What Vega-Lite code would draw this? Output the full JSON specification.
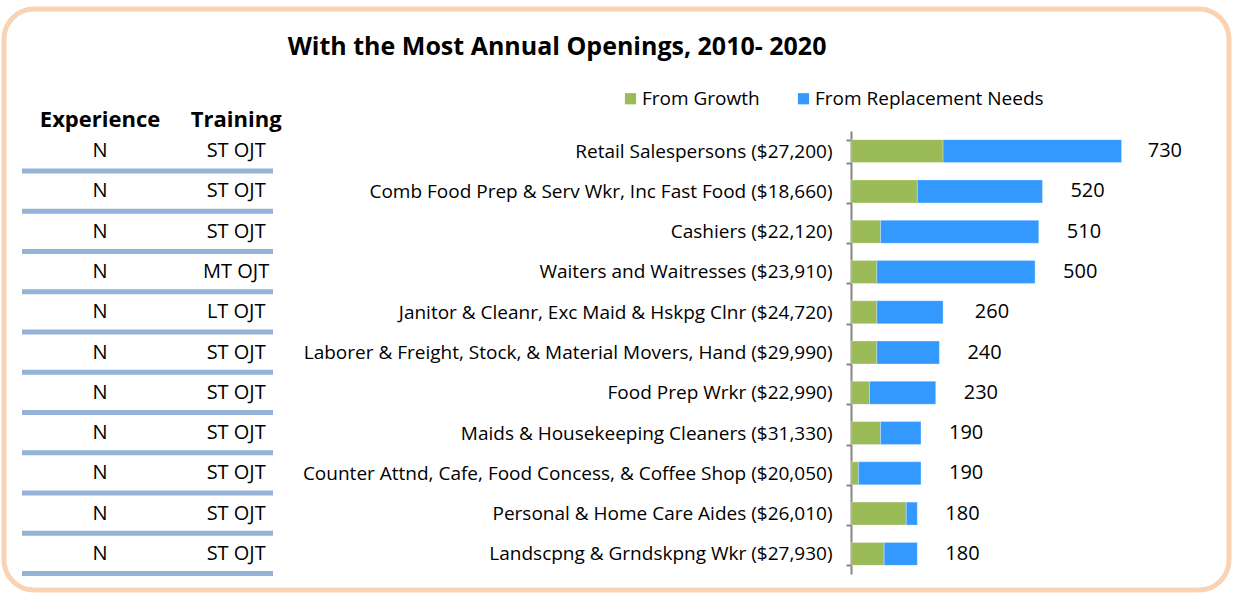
{
  "$schema": "https://vega.github.io/schema/vega-lite/v6.json",
  "width": 1233,
  "height": 594,
  "autosize": {"type": "fit", "contains": "padding"},
  "padding": {"left": 4, "top": 0, "right": 4, "bottom": 4},
  "background": "white",
  "config": {
    "view": {"stroke": "#FAD3B2", "strokeWidth": 5, "cornerRadius": 30},
    "font": "Open Sans",
    "text": {"font": "Open Sans"}
  },
  "datasets": {
    "jobs": [
      {"occ": "Retail Salespersons ($27,200)", "exp": "N", "train": "ST OJT", "From Growth": 250, "From Replacement Needs": 485, "total": 730},
      {"occ": "Comb Food Prep & Serv Wkr, Inc Fast Food ($18,660)", "exp": "N", "train": "ST OJT", "From Growth": 180, "From Replacement Needs": 340, "total": 520},
      {"occ": "Cashiers ($22,120)", "exp": "N", "train": "ST OJT", "From Growth": 80, "From Replacement Needs": 430, "total": 510},
      {"occ": "Waiters and Waitresses ($23,910)", "exp": "N", "train": "MT OJT", "From Growth": 70, "From Replacement Needs": 430, "total": 500},
      {"occ": "Janitor & Cleanr, Exc Maid & Hskpg Clnr ($24,720)", "exp": "N", "train": "LT OJT", "From Growth": 70, "From Replacement Needs": 180, "total": 260},
      {"occ": "Laborer & Freight, Stock, & Material Movers, Hand ($29,990)", "exp": "N", "train": "ST OJT", "From Growth": 70, "From Replacement Needs": 170, "total": 240},
      {"occ": "Food Prep Wrkr ($22,990)", "exp": "N", "train": "ST OJT", "From Growth": 50, "From Replacement Needs": 180, "total": 230},
      {"occ": "Maids & Housekeeping Cleaners ($31,330)", "exp": "N", "train": "ST OJT", "From Growth": 80, "From Replacement Needs": 110, "total": 190},
      {"occ": "Counter Attnd, Cafe, Food Concess, & Coffee Shop ($20,050)", "exp": "N", "train": "ST OJT", "From Growth": 20, "From Replacement Needs": 170, "total": 190},
      {"occ": "Personal & Home Care Aides ($26,010)", "exp": "N", "train": "ST OJT", "From Growth": 150, "From Replacement Needs": 30, "total": 180},
      {"occ": "Landscpng & Grndskpng Wkr ($27,930)", "exp": "N", "train": "ST OJT", "From Growth": 90, "From Replacement Needs": 90, "total": 180}
    ]
  },
  "data": {"name": "jobs"},
  "layer": [
    {
      "transform": [{"fold": ["From Growth", "From Replacement Needs"], "as": ["series", "value"]}],
      "mark": {"type": "bar", "stroke": "#ffffff", "strokeOpacity": 0.35, "strokeWidth": 0.8},
      "encoding": {
        "y": {
          "field": "occ", "type": "nominal", "sort": null,
          "scale": {"range": [122, 565], "paddingInner": 0.43, "paddingOuter": 0.215},
          "axis": {
            "title": null, "orient": "left", "offset": -847,
            "domainColor": "#868686", "domainWidth": 2,
            "tickColor": "#868686", "tickWidth": 2, "tickSize": 5, "tickBand": "extent",
            "labelFontSize": 19, "labelColor": "#000000", "labelPadding": 14, "labelLimit": 700,
            "labelFont": "Open Sans", "grid": false
          }
        },
        "x": {
          "field": "value", "type": "quantitative", "stack": "zero",
          "scale": {"domain": [-2302, 1027], "nice": false, "zero": false},
          "axis": null
        },
        "color": {
          "field": "series", "type": "nominal",
          "scale": {"domain": ["From Growth", "From Replacement Needs"], "range": ["#9BBB59", "#3399FF"]},
          "legend": {
            "title": null, "orient": "none", "legendX": 617, "legendY": 80,
            "direction": "horizontal", "symbolType": "square", "symbolSize": 125,
            "labelFontSize": 19, "labelFont": "Open Sans", "labelColor": "#000000", "labelLimit": 400,
            "columnPadding": 34, "labelOffset": 2, "symbolStrokeWidth": 0
          }
        },
        "order": {"field": "series"}
      }
    },
    {
      "mark": {"type": "text", "align": "left", "dx": 28, "fontSize": 20, "color": "#000000"},
      "encoding": {
        "y": {"field": "occ", "type": "nominal", "sort": null},
        "x": {"field": "total", "type": "quantitative"},
        "text": {"field": "total"}
      }
    },
    {
      "mark": {"type": "rule", "color": "#95B3D7", "strokeWidth": 5},
      "encoding": {
        "y": {"field": "occ", "type": "nominal", "sort": null, "bandPosition": 1.36},
        "x": {"datum": -2253, "type": "quantitative"},
        "x2": {"datum": -1571}
      }
    },
    {
      "mark": {"type": "text", "fontSize": 20, "color": "#000000"},
      "encoding": {
        "y": {"field": "occ", "type": "nominal", "sort": null},
        "x": {"datum": -2041, "type": "quantitative"},
        "text": {"field": "exp"}
      }
    },
    {
      "mark": {"type": "text", "fontSize": 20, "color": "#000000"},
      "encoding": {
        "y": {"field": "occ", "type": "nominal", "sort": null},
        "x": {"datum": -1671, "type": "quantitative"},
        "text": {"field": "train"}
      }
    },
    {
      "transform": [{"filter": {"field": "occ", "equal": "Retail Salespersons ($27,200)"}}],
      "mark": {"type": "text", "text": "Experience", "fontSize": 22, "fontWeight": "bold", "dy": -31, "color": "#000000"},
      "encoding": {
        "y": {"field": "occ", "type": "nominal", "sort": null},
        "x": {"datum": -2041, "type": "quantitative"}
      }
    },
    {
      "transform": [{"filter": {"field": "occ", "equal": "Retail Salespersons ($27,200)"}}],
      "mark": {"type": "text", "text": "Training", "fontSize": 22, "fontWeight": "bold", "dy": -31, "color": "#000000"},
      "encoding": {
        "y": {"field": "occ", "type": "nominal", "sort": null},
        "x": {"datum": -1671, "type": "quantitative"}
      }
    },
    {
      "transform": [{"filter": {"field": "occ", "equal": "Retail Salespersons ($27,200)"}}],
      "mark": {"type": "text", "text": "With the Most Annual Openings, 2010- 2020", "fontSize": 25, "fontWeight": "bold", "dy": -104, "color": "#000000"},
      "encoding": {
        "y": {"field": "occ", "type": "nominal", "sort": null},
        "x": {"datum": -799, "type": "quantitative"}
      }
    }
  ]
}
